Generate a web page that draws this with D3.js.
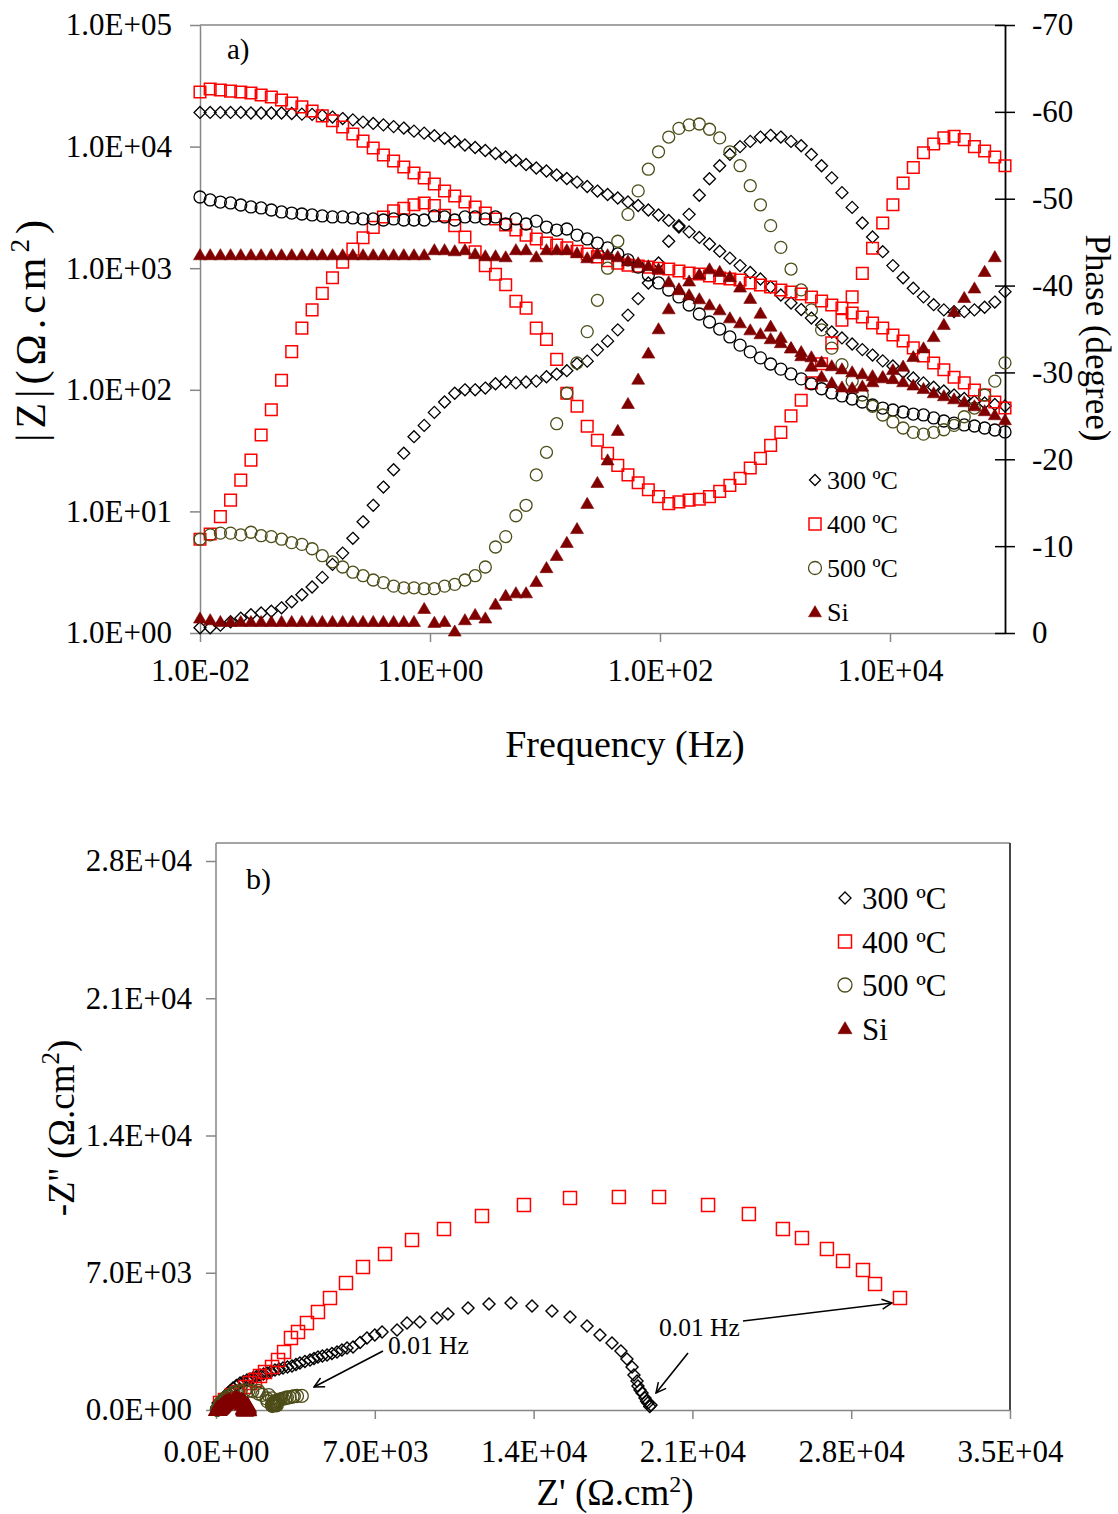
<!DOCTYPE html>
<html><head><meta charset="utf-8">
<script src="https://cdn.jsdelivr.net/npm/d3@7"></script>
<style>
body{margin:0;background:#fff}
svg{display:block}
text{font-family:"Liberation Serif","Times New Roman",serif;fill:#000}
</style></head>
<body><svg id="c" width="1118" height="1514"></svg>
<script>
// ---------- DATA ----------
const freq = [0.0100,0.01226,0.01504,0.01844,0.02262,0.02774,0.03401,0.04171,0.05115,0.06273,0.07693,0.09434,0.1157,0.1419,0.1740,0.2134,0.2617,0.3209,0.3935,0.4826,0.5918,0.7258,0.8901,1.091,1.339,1.641,2.013,2.469,3.027,3.712,4.552,5.583,6.846,8.396,10.30,12.63,15.48,18.99,23.29,28.56,35.02,42.95,52.67,64.59,79.21,97.13,119.1,146.1,179.1,219.7,269.4,330.4,405.1,496.8,609.3,747.2,916.3,1124,1378,1690,2072,2541,3117,3822,4687,5748,7049,8645,10600,13000,15940,19550,23980,29400,36060,44220,54230,66500,81560,100000];

const zMod300 = [19100,19100,19100,19100,19100,18900,18900,18900,18900,18700,18500,18400,18000,17500,17000,16600,15900,15500,15100,14600,14200,13400,12900,12300,11700,11000,10300,9830,9290,8780,8210,7690,7120,6670,6300,5840,5470,5110,4700,4310,4040,3780,3500,3280,3010,2740,2470,2180,1990,1790,1580,1380,1210,1050,922,815,700,602,517,457,389,341,299,267,238,214,193,173,157,140,125,114,105,97.7,90.6,84.8,80.1,77.9,75.7,73.6];
const phase300 = [-0.6,-0.6,-0.9,-1.3,-1.7,-2.1,-2.3,-2.5,-2.9,-3.6,-4.4,-5.3,-6.4,-7.9,-9.2,-10.9,-12.8,-14.7,-16.8,-18.8,-20.7,-22.6,-23.9,-25.4,-26.6,-27.6,-28.0,-28.0,-28.2,-28.7,-28.9,-28.8,-28.9,-29.0,-29.5,-29.8,-30.2,-31.0,-31.3,-32.6,-33.6,-34.9,-36.6,-38.5,-40.3,-42.6,-45.1,-46.9,-48.2,-50.4,-52.3,-53.8,-55.1,-56.0,-56.6,-57.1,-57.3,-57.1,-56.6,-56.1,-55.1,-53.8,-52.4,-50.7,-49.0,-47.2,-45.6,-43.9,-42.3,-40.9,-39.7,-38.7,-37.8,-37.2,-37.0,-37.0,-37.2,-37.5,-38.1,-39.3];

const zMod400 = [28100,29800,29200,28600,28100,27600,26600,25600,24200,22800,21200,19600,17900,16300,14500,12700,11100,9740,8530,7620,6800,6070,5520,4920,4310,3920,3500,3190,2840,2540,2270,2060,1870,1740,1610,1550,1470,1380,1310,1240,1150,1100,1060,1040,1020,1000,985,948,914,896,863,830,815,800,756,728,700,662,637,614,580,537,498,471,428,397,354,322,282,252,221,190,166,146,127,114,99.6,90.6,79.4,70.8];
const phase400 = [-10.8,-11.4,-13.4,-15.3,-17.6,-19.9,-22.8,-25.7,-29.1,-32.4,-35.1,-37.2,-39.1,-40.9,-42.7,-44.2,-45.5,-46.7,-47.9,-48.6,-48.9,-49.3,-49.5,-49.2,-48.1,-46.9,-45.6,-43.9,-42.3,-41.3,-40.1,-38.2,-37.4,-35.1,-33.8,-31.5,-27.6,-26.1,-23.8,-22.2,-20.7,-19.3,-18.2,-17.3,-16.5,-15.7,-14.9,-15.1,-15.3,-15.4,-15.7,-16.3,-17.0,-17.8,-19.0,-20.1,-21.6,-23.1,-25.0,-26.8,-28.8,-31.0,-33.4,-36.0,-38.7,-41.4,-44.3,-47.2,-49.3,-51.8,-53.6,-55.3,-56.3,-57.0,-57.2,-56.8,-56.0,-55.5,-54.8,-53.8];

const zMod500 = [3850,3640,3500,3440,3310,3190,3130,3010,2900,2840,2790,2740,2690,2640,2640,2590,2540,2540,2490,2540,2490,2490,2490,2690,2640,2490,2640,2640,2540,2640,2310,2540,2310,2440,2180,2060,2100,1870,1740,1610,1470,1310,1170,1020,879,756,662,580,498,420,361,316,272,233,205,183,163,148,135,123,112,102,94.2,89.0,84.0,79.4,75.0,70.8,68.2,65.7,63.2,62.1,58.7,55.4,53.3,51.4,50.4,48.5,46.7,45.0];
const phase500 = [-10.8,-11.3,-11.5,-11.5,-11.3,-11.6,-11.2,-11.1,-10.8,-10.4,-10.2,-9.7,-8.9,-8.2,-7.6,-7.0,-6.6,-6.1,-5.8,-5.4,-5.2,-5.2,-5.1,-5.1,-5.4,-5.6,-6.1,-6.6,-7.6,-9.9,-11.1,-13.5,-14.7,-18.2,-20.8,-24.1,-27.6,-31.1,-34.7,-38.3,-42.0,-45.1,-48.2,-50.9,-53.4,-55.4,-57.1,-58.1,-58.5,-58.6,-58.0,-57.0,-55.4,-53.8,-51.5,-49.3,-46.9,-44.4,-41.9,-39.5,-37.2,-34.9,-32.8,-30.9,-29.0,-27.4,-26.1,-25.1,-24.3,-23.6,-23.1,-22.9,-23.1,-23.4,-23.9,-24.9,-25.9,-27.4,-29.0,-31.1];

const zModSi = [1285,1285,1285,1285,1285,1285,1285,1285,1285,1285,1285,1285,1285,1285,1285,1285,1285,1285,1285,1285,1285,1285,1285,1413,1413,1385,1413,1309,1259,1259,1236,1413,1413,1236,1413,1413,1413,1334,1213,1309,1285,1236,1146,1103,1043,985,771,675,602,558,498,453,389,354,310,288,262,243,221,205,186,169,157,148,140,135,130,125,123,116,109,102,94.2,89.0,84.0,79.4,73.6,67.0,62.1,56.5];
const phaseSi = [-1.7,-1.5,-1.3,-1.3,-1.3,-1.3,-1.3,-1.3,-1.3,-1.3,-1.3,-1.3,-1.3,-1.3,-1.3,-1.3,-1.3,-1.3,-1.3,-1.3,-1.3,-1.3,-2.8,-1.2,-1.3,-0.2,-1.5,-2.1,-1.7,-3.3,-4.3,-4.6,-4.6,-5.9,-7.5,-8.9,-10.4,-12.0,-14.9,-17.3,-19.9,-23.3,-26.4,-29.2,-32.2,-35.0,-37.3,-39.5,-40.5,-41.3,-41.9,-41.6,-41.0,-39.8,-38.5,-36.8,-35.3,-34.0,-32.8,-31.9,-30.7,-29.5,-28.8,-28.3,-28.2,-28.4,-28.9,-29.5,-30.3,-30.7,-31.8,-32.8,-34.1,-35.5,-37.0,-38.6,-39.7,-41.6,-43.3,null];

// Nyquist (Z', -Z'') in ohm.cm2
const nyqRe300 = [19175,19120,19040,18980,18910,18780,18690,18600,18560,18425,18340,18115,17850,17455,16925,16355,15605,14810,13930,13005,12035,11110,10225,9740,8990,8420,7980,7320,7000,6655,6350,6040,5775,5550,5335,5110,4895,4690,4495,4320,4145,3920,3700,3525,3350,3150,2955,2780,2600,2420,2250,2095,1940,1785,1630,1500,1365,1210,1060,900,750,640,530,420,310,200,90];
const nyqIm300 = [255,180,357,450,612,867,1020,1224,1479,1785,2190,2600,3010,3415,3825,4285,4745,5050,5305,5455,5405,5200,4895,4690,4490,4435,4080,3980,3830,3670,3440,3215,3160,3060,2960,2880,2805,2755,2705,2630,2550,2475,2400,2320,2245,2190,2140,2090,2040,1965,1890,1840,1785,1705,1630,1580,1530,1450,1375,1250,1120,990,865,740,610,480,355];
const nyqRe400 = [30150,29050,28520,27640,26930,25830,24990,23490,21690,19530,17760,15605,13575,11725,10050,8640,7450,6480,5730,5025,4495,4010,3615,3305,3000,2735,2470,2160,1940,1720,1500,1280,970,705,395,175];
const nyqIm400 = [5710,6425,7140,7600,8210,8770,9230,10000,10455,10865,10865,10810,10455,9895,9230,8670,7955,7295,6475,5710,5000,4435,3980,3670,2960,2550,2195,1940,1735,1530,1375,1175,920,765,510,355];
const nyqRe500 = [3780,3570,3430,3371,3245,3125,3070,2954,2850,2793,2745,2701,2660,2613,2615,2571,2525,2526,2475,2529,2480,2480,2480,2679,2630,2478,2625,2622,2520,2601,2265,2470,2235,2320,2040,1880,1860,1600,1430,1265,1090,925,780,643,524,429,360,307,260,219,191,172,154,138,128,119,111,106,100,89,79,73,67,62,58,54,49,45,38.5];
const nyqIm500 = [720,713,698,686,649,641,608,580,543,513,494,462,416,377,349,316,292,270,252,239,226,226,221,239,248,243,280,303,336,454,445,593,586,762,774,841,973,966,991,998,984,928,873,792,706,622,556,492,425,358,306,265,224,188,160,139,119,104,90,68,51,41,33,28,25,23,22,22,23];
const nyqReSi = [1284,1285,1285,1285,1285,1285,1283,1413,1413,1258,1232,1408,1229,1401,1396,1390,1305,1172,1250,1208,1135,1026,963,883,807,613,521,458,419,371,339,294,272,243,231,214,186,160,138,123,114,106,93,78,67,57,45];
const nyqImSi = [38,29,29,29,29,29,63,32,37,37,93,113,127,184,219,255,277,312,389,437,489,510,538,556,565,467,429,391,368,333,301,255,227,193,173,151,120,95,76,66,63,62,57,53,51,47,43];

const seriesNames = ["300 ºC","400 ºC","500 ºC","Si"];
const zTicks = [1,10,100,1000,10000,100000];
const fTicks = [0.01,1,100,10000];
const pTicks = [0,-10,-20,-30,-40,-50,-60,-70];
const reTicks = [0,7000,14000,21000,28000,35000];
const imTicks = [0,7000,14000,21000,28000];

// ---------- HELPERS ----------
const svg = d3.select("#c");
function sci(v){
  if(v===0) return "0.0E+00";
  const e = Math.floor(Math.log10(Math.abs(v))+1e-9);
  const m = v/Math.pow(10,e);
  const s = e<0?"-":"+";
  return m.toFixed(1)+"E"+s+String(Math.abs(e)).padStart(2,"0");
}
const shapes = {
  diamond: r => `M0,${-r}L${r},0L0,${r}L${-r},0Z`,
  square: r => `M${-r},${-r}H${r}V${r}H${-r}Z`,
  triangle: r => `M0,${-r*1.05}L${r*1.08},${r*0.8}L${-r*1.08},${r*0.8}Z`
};
function drawMarkers(g, pts, type, r, stroke, fill, sw){
  if(type==="circle"){
    g.selectAll(null).data(pts).enter().append("circle")
      .attr("cx",d=>d[0]).attr("cy",d=>d[1]).attr("r",r)
      .attr("fill",fill).attr("stroke",stroke).attr("stroke-width",sw);
  } else {
    g.selectAll(null).data(pts).enter().append("path")
      .attr("transform",d=>`translate(${d[0]},${d[1]})`)
      .attr("d",shapes[type](r))
      .attr("fill",fill).attr("stroke",stroke).attr("stroke-width",sw);
  }
}
const C300="#000000", C400="#ff0000", C500="#4d4d19", CSi="#800000";
const GRAY="#868686";
const TICKFONT = 31;

// ---------- PANEL A ----------
const A = {l:200,r:1005,t:25,b:633};
const xF = d3.scaleLog().domain([0.01,1e5]).range([A.l,A.r]);
const yZ = d3.scaleLog().domain([1,1e5]).range([A.b,A.t]);
const yP = d3.scaleLinear().domain([0,-70]).range([A.b,A.t]);

const ga = svg.append("g");
ga.append("line").attr("x1",A.l).attr("x2",A.r).attr("y1",A.t).attr("y2",A.t).attr("stroke",GRAY).attr("stroke-width",1.5);

const axL = ga.append("g").attr("transform",`translate(${A.l},0)`)
  .call(d3.axisLeft(yZ).tickValues(zTicks).tickFormat(sci).tickSizeInner(10).tickSizeOuter(0).tickPadding(18));
const axB = ga.append("g").attr("transform",`translate(0,${A.b})`)
  .call(d3.axisBottom(xF).tickValues(fTicks).tickFormat(sci).tickSizeInner(9).tickSizeOuter(0).tickPadding(17));
const axR = ga.append("g").attr("transform",`translate(${A.r},0)`)
  .call(d3.axisRight(yP).tickValues(pTicks).tickFormat(d=>String(d)).tickSizeInner(10).tickSizeOuter(0).tickPadding(17));
axR.selectAll(".tick line").attr("x1",-10);
[axL,axB].forEach(a=>{a.select(".domain").attr("stroke",GRAY).attr("stroke-width",1.5);a.selectAll(".tick line").attr("stroke",GRAY).attr("stroke-width",1.5);});
axR.select(".domain").attr("stroke","#000").attr("stroke-width",1.8);
axR.selectAll(".tick line").attr("stroke","#000").attr("stroke-width",1.5);
[axL,axB,axR].forEach(a=>a.selectAll(".tick text").attr("font-size",TICKFONT).attr("font-family","Liberation Serif").attr("fill","#000"));

const zSeries = [[zMod300,"diamond",6,C300,"none",1.3],[zMod400,"square",5.8,C400,"none",1.5],[zMod500,"circle",6,"#000","none",1.3],[zModSi,"triangle",6,CSi,CSi,0.6]];
const pSeries = [[phase300,"diamond",6,C300,"none",1.3],[phase400,"square",5.8,C400,"none",1.5],[phase500,"circle",6,C500,"none",1.3],[phaseSi,"triangle",6,CSi,CSi,0.6]];
const gPts = ga.append("g");
[0,1,2,3].forEach(k=>{
  const [zs,ty,r,st,fi,sw] = zSeries[k];
  drawMarkers(gPts, freq.map((f,i)=>zs[i]==null?null:[xF(f),yZ(zs[i])]).filter(d=>d), ty,r,st,fi,sw);
  const [ps,ty2,r2,st2,fi2,sw2] = pSeries[k];
  drawMarkers(gPts, freq.map((f,i)=>ps[i]==null?null:[xF(f),yP(ps[i])]).filter(d=>d), ty2,r2,st2,fi2,sw2);
});

ga.append("text").attr("x",227).attr("y",59).attr("font-size",29).text("a)");
ga.append("text").attr("x",625).attr("y",757).attr("text-anchor","middle").attr("font-size",38).text("Frequency (Hz)");
ga.append("text").attr("transform",`translate(45,331) rotate(-90)`).attr("text-anchor","middle").attr("font-size",42)
  .attr("textLength",222).attr("lengthAdjust","spacing")
  .html('|Z|(Ω.cm<tspan dy="-16" font-size="27">2</tspan><tspan dy="16">)</tspan>');
ga.append("text").attr("transform",`translate(1086,338) rotate(90)`).attr("text-anchor","middle").attr("font-size",35).text("Phase (degree)");

// legend a
const legA = ga.append("g");
const legItems = [["diamond",5.5,C300,"none",1.3],["square",6,C400,"none",1.5],["circle",6.5,C500,"none",1.3],["triangle",6,CSi,CSi,0.6]];
legItems.forEach((it,i)=>{
  const y = 480 + i*44;
  drawMarkers(legA, [[815,y]], it[0], it[1], it[2], it[3], it[4]);
  legA.append("text").attr("x",827).attr("y",y+9).attr("font-size",26).text(seriesNames[i]);
});

// ---------- PANEL B ----------
const B = {l:216,r:1010,t:843,b:1410};
const xR = d3.scaleLinear().domain([0,35000]).range([B.l,B.r]);
const yI = d3.scaleLinear().domain([0,28000]).range([B.b,861]);
const gb = svg.append("g");
gb.append("line").attr("x1",B.l).attr("x2",B.r).attr("y1",B.t).attr("y2",B.t).attr("stroke",GRAY).attr("stroke-width",1.5);
gb.append("line").attr("x1",B.r).attr("x2",B.r).attr("y1",B.t).attr("y2",B.b).attr("stroke","#333").attr("stroke-width",1.8);
const bxL = gb.append("g").attr("transform",`translate(${B.l},0)`)
  .call(d3.axisLeft(yI).tickValues(imTicks).tickFormat(sci).tickSizeInner(10).tickSizeOuter(0).tickPadding(14));
bxL.select(".domain").attr("d",`M0,${B.t}V${B.b}`);
const bxB = gb.append("g").attr("transform",`translate(0,${B.b})`)
  .call(d3.axisBottom(xR).tickValues(reTicks).tickFormat(sci).tickSizeInner(9).tickSizeOuter(0).tickPadding(21));
[bxL,bxB].forEach(a=>{a.select(".domain").attr("stroke",GRAY).attr("stroke-width",1.5);a.selectAll(".tick line").attr("stroke",GRAY).attr("stroke-width",1.5);a.selectAll(".tick text").attr("font-size",TICKFONT).attr("font-family","Liberation Serif").attr("fill","#000");});

const gPb = gb.append("g");
drawMarkers(gPb, nyqRe300.map((v,i)=>[xR(v),yI(nyqIm300[i])]), "diamond",6,C300,"none",1.4);
drawMarkers(gPb, nyqRe400.map((v,i)=>[xR(v),yI(nyqIm400[i])]), "square",6.5,C400,"none",1.5);
drawMarkers(gPb, nyqRe500.map((v,i)=>[xR(v),yI(nyqIm500[i])]), "circle",6.5,C500,"none",1.3);
drawMarkers(gPb, nyqReSi.map((v,i)=>[xR(v),yI(nyqImSi[i])]), "triangle",8,CSi,CSi,0.6);

gb.append("text").attr("x",246).attr("y",889).attr("font-size",30).text("b)");
gb.append("text").attr("x",615).attr("y",1505).attr("text-anchor","middle").attr("font-size",37)
  .html('Z\' (Ω.cm<tspan dy="-13" font-size="24">2</tspan><tspan dy="13">)</tspan>');
gb.append("text").attr("transform",`translate(74,1128) rotate(-90)`).attr("text-anchor","middle").attr("font-size",37)
  .html('-Z\'\' (Ω.cm<tspan dy="-15" font-size="25">2</tspan><tspan dy="15">)</tspan>');

const legB = gb.append("g");
legItems.forEach((it,i)=>{
  const y = 898 + i*43.5;
  drawMarkers(legB, [[845,y]], it[0], it[1]+0.5, it[2], it[3], it[4]);
  legB.append("text").attr("x",862).attr("y",y+11).attr("font-size",31).text(seriesNames[i]);
});

// annotations
const defs = svg.append("defs");
defs.append("marker").attr("id","arr").attr("viewBox","0 0 12 12").attr("refX",11).attr("refY",6)
  .attr("markerWidth",12).attr("markerHeight",12).attr("markerUnits","userSpaceOnUse").attr("orient","auto")
  .append("path").attr("d","M1,1L11,6L1,11").attr("fill","none").attr("stroke","#000").attr("stroke-width",1.5);
function arrow(x1,y1,x2,y2){
  gb.append("line").attr("x1",x1).attr("y1",y1).attr("x2",x2).attr("y2",y2).attr("stroke","#000").attr("stroke-width",1.6).attr("marker-end","url(#arr)");
}
gb.append("text").attr("x",388).attr("y",1354).attr("font-size",25.5).text("0.01 Hz");
arrow(383,1351,314,1387);
gb.append("text").attr("x",659).attr("y",1336).attr("font-size",25.5).text("0.01 Hz");
arrow(743,1321,892,1303);
arrow(688,1353,656,1393);
</script></body></html>
